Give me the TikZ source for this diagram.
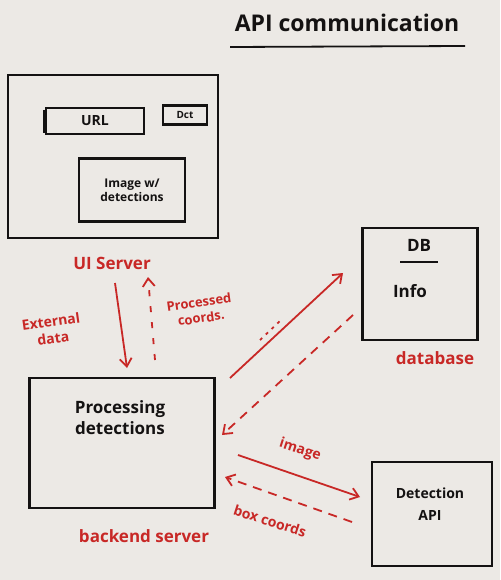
\documentclass[tikz,border=0pt]{standalone}
\usepackage{fontspec}
\setmainfont{Open Sans}
\usetikzlibrary{arrows.meta}
\definecolor{board}{RGB}{236,233,229}
\definecolor{ink}{RGB}{20,18,18}
\definecolor{marker}{RGB}{200,40,38}
\tikzset{
  box/.style={draw=ink, line width=2.2pt},
  btext/.style={text=ink, font=\fontsize{13}{15}\selectfont\bfseries, align=center},
  rtext/.style={text=marker, font=\fontsize{17}{19}\selectfont\bfseries, align=center},
  flow/.style={draw=marker, line width=1.8pt, -{Straight Barb[length=8pt,width=12pt]}},
  back/.style={flow, dash pattern=on 9pt off 7pt},
}
\begin{document}
\begin{tikzpicture}[x=1pt,y=-1pt]
\fill[board] (0,0) rectangle (500,580);
\useasboundingbox (0,0) rectangle (500,580);
% title
\node[btext, font=\fontsize{23}{25}\selectfont\bfseries] (title) at (347,23) {API communication};
\draw[ink, line width=1.8pt] (230,47) -- (465,46);
% UI server
\draw[box] (8,75) rectangle (218,238);
\node[box, minimum width=98pt, minimum height=26pt, btext, font=\fontsize{14}{16}\selectfont\bfseries] (url) at (95,121) {URL};
\draw[ink, line width=2.2pt] (44,110) -- (44,133);
\node[box, minimum width=44pt, minimum height=19pt, inner sep=1pt, btext, font=\fontsize{10}{12}\selectfont\bfseries] (dct) at (185,115) {Dct};
\node[box, minimum width=106pt, minimum height=63pt, btext, font=\fontsize{12}{14}\selectfont\bfseries] (img) at (132,190) {Image w/\\detections};
\node[rtext] (uilabel) at (112,263) {UI Server};
% backend
\node[box, minimum width=185pt, minimum height=130pt] (backend) at (122,443) {};
\node[btext, font=\fontsize{17}{21}\selectfont\bfseries] (proc) at (120,418) {Processing\\detections};
\node[rtext] (belabel) at (144,536) {backend server};
% DB
\node[box, minimum width=115pt, minimum height=112pt] (db) at (420,284) {};
\node[btext, font=\fontsize{17}{19}\selectfont\bfseries] (dbt) at (419,245) {DB};
\draw[ink, line width=1.8pt] (400,262) -- (438,262);
\node[btext, font=\fontsize{17}{19}\selectfont\bfseries] (info) at (410,291) {Info};
\node[rtext] (dblabel) at (435,358) {database};
% Detection API
\node[box, minimum width=120pt, minimum height=104pt] (api) at (432,514) {};
\node[btext, font=\fontsize{14}{16}\selectfont\bfseries] (apit) at (430,504) {Detection\\[6pt]API};
% connectors
\coordinate (a1) at (115,283); \coordinate (a2) at (127,368);
\draw[flow] (a1) -- (a2);
\coordinate (b1) at (155,360); \coordinate (b2) at (148,277);
\draw[back, dash pattern=on 6pt off 10pt] (b1) -- (b2);
\node[rtext, font=\fontsize{14}{17}\selectfont\bfseries, rotate=8] (ext) at (52,330) {External\\data};
\node[rtext, font=\fontsize{13}{16}\selectfont\bfseries, rotate=8] (pc) at (200,310) {Processed\\coords.};
\coordinate (c1) at (230,378); \coordinate (c2) at (343,273);
\draw[flow] (c1) -- (c2);
\coordinate (d1) at (353,315); \coordinate (d2) at (222,435);
\draw[back] (d1) -- (d2);
\coordinate (e1) at (260,340); \coordinate (e2) at (283,318);
\draw[marker, line width=1.8pt, dash pattern=on 3pt off 5pt] (e1) -- (e2);
\coordinate (f1) at (238,455); \coordinate (f2) at (360,497);
\draw[flow] (f1) -- (f2);
\node[rtext, font=\fontsize{14}{16}\selectfont\bfseries, rotate=-18] (imgl) at (300,450) {image};
\coordinate (g1) at (352,522); \coordinate (g2) at (225,477);
\draw[back] (g1) -- (g2);
\node[rtext, font=\fontsize{14}{16}\selectfont\bfseries, rotate=-18] (boxl) at (270,521) {box coords};
\end{tikzpicture}
\end{document}
